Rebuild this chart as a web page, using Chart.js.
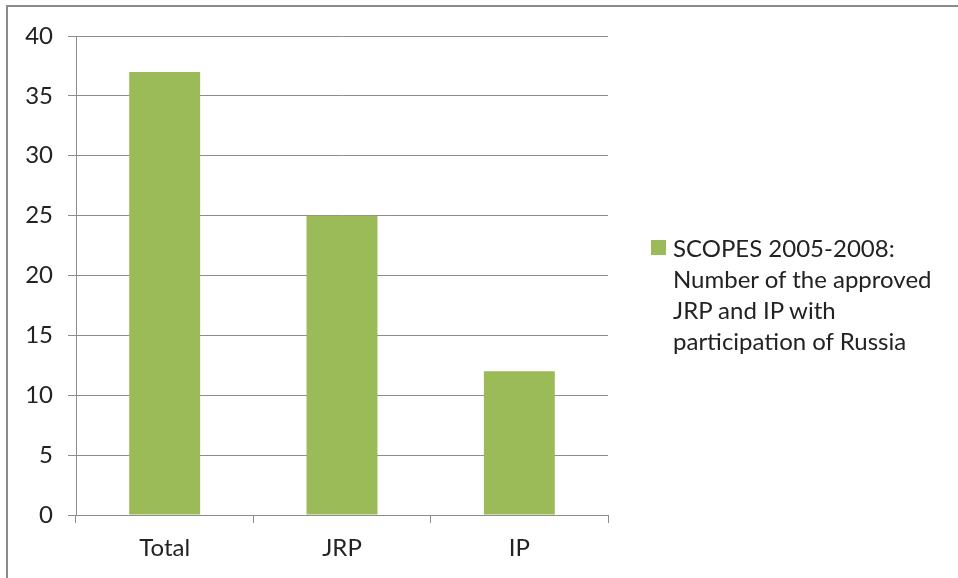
<!DOCTYPE html>
<html>
<head>
<meta charset="utf-8">
<script src="https://cdn.jsdelivr.net/npm/chart.js@4/dist/chart.umd.min.js"></script>
<style>
  html, body { margin: 0; padding: 0; background: #fff; overflow: hidden; }
  #wrap { position: relative; width: 958px; height: 578px; }
  #frame {
    position: absolute; left: 6px; top: 5px; width: 1000px; height: 1000px;
    border: 2px solid #8a8a8a; box-sizing: border-box;
  }
  #chart { position: absolute; left: 0; top: 0; }
  #legend {
    position: absolute; left: 651px; top: 232px;
    font-family: Lato, "Liberation Sans", sans-serif; font-size: 24px;
    color: #222; line-height: 31px;
  }
  #legend .box {
    position: absolute; left: 0; top: 8px; width: 15px; height: 15px;
  }
  #legend .text { margin-left: 22px; white-space: nowrap; }
</style>
</head>
<body>
<div id="wrap">
  <div id="frame"></div>
  <canvas id="chart" width="958" height="578"></canvas>
  <div id="legend"></div>
</div>
<script>
const categories = ["Total", "JRP", "IP"];
const approvedProjects = [37, 25, 12];
const legendLines = [
  "SCOPES 2005-2008:",
  "Number of the approved",
  "JRP and IP with",
  "participation of Russia",
];
const barColor = "#9bbb59";
const gridColor = "#8c8c8c";
const textColor = "#222";
const fontFamily = "Lato, 'Liberation Sans', sans-serif";

Chart.defaults.font.family = fontFamily;
Chart.defaults.font.size = 24;
Chart.defaults.color = textColor;

const ctx = document.getElementById("chart");

new Chart(ctx, {
  type: "bar",
  data: {
    labels: categories,
    datasets: [
      {
        label: legendLines.join(" "),
        data: approvedProjects,
        backgroundColor: barColor,
        categoryPercentage: 1,
        barPercentage: 0.4,
      },
    ],
  },
  options: {
    responsive: false,
    animation: false,
    layout: {
      padding: { top: 36, right: 350, left: 0, bottom: 0 },
    },
    plugins: {
      legend: { display: false },
      tooltip: { enabled: false },
    },
    scales: {
      x: {
        grid: {
          drawOnChartArea: false,
          drawTicks: true,
          tickLength: 8,
          color: gridColor,
        },
        border: { color: gridColor },
        ticks: { padding: 11 },
        afterFit: (scale) => {
          scale.height = 63;
        },
      },
      y: {
        min: 0,
        max: 40,
        ticks: { stepSize: 5, padding: 15 },
        grid: { color: gridColor, tickLength: 8 },
        border: { color: gridColor },
        afterFit: (scale) => {
          scale.width = 76;
        },
      },
    },
  },
});

// legend drawn as html so the lines can wrap like the original
const legendEl = document.getElementById("legend");
const box = document.createElement("div");
box.className = "box";
box.style.background = barColor;
legendEl.appendChild(box);
const textEl = document.createElement("div");
textEl.className = "text";
textEl.innerHTML = legendLines.join("<br>");
legendEl.appendChild(textEl);
</script>
</body>
</html>
